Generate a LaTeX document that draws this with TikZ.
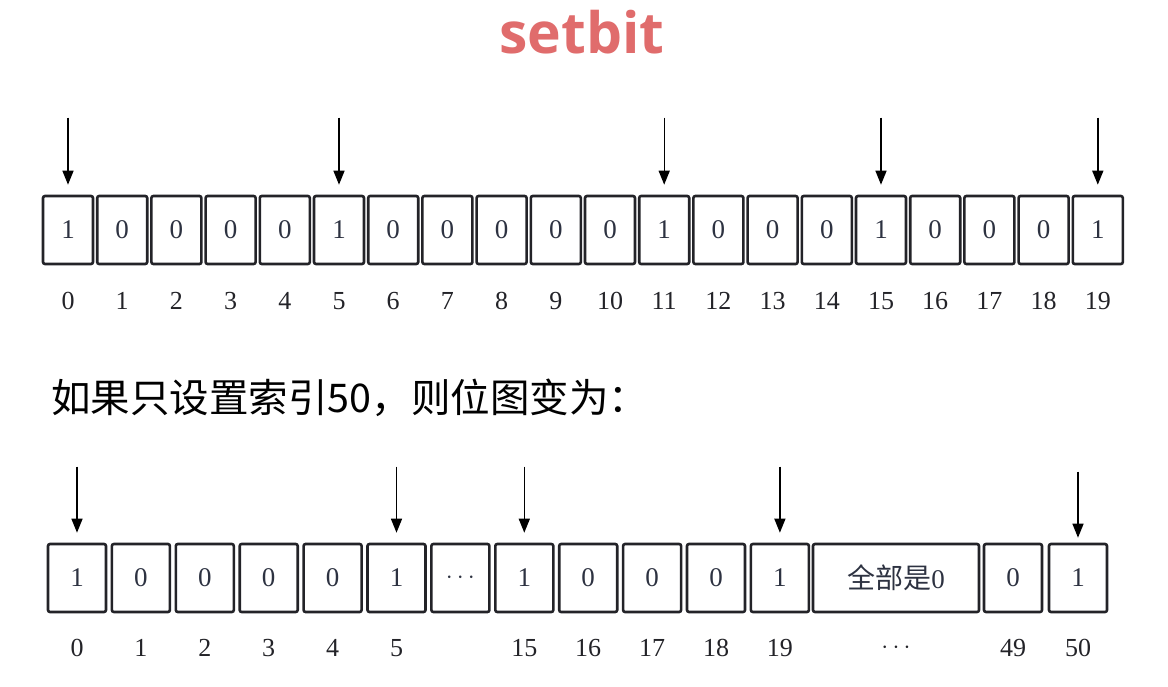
\documentclass[tikz,border=0pt]{standalone}
\usepackage{fontspec}
\setmainfont{Liberation Serif}
\newfontfamily\cjk{Noto Sans CJK SC}
\newfontfamily\titlefont{Open Sans}
\usetikzlibrary{arrows.meta,positioning}
\definecolor{titlered}{RGB}{224,108,108}
\definecolor{ink}{RGB}{35,35,40}
\definecolor{digit}{RGB}{45,50,65}
\begin{document}
\begin{tikzpicture}[x=1pt,y=-1pt,
	bit/.style={draw=ink, line width=2.6pt, rounded corners=2pt, inner sep=0pt, minimum height=68pt, text=digit, font=\fontsize{27}{29}\selectfont},
	bitA/.style={bit, minimum width=50pt},
	bitB/.style={bit, minimum width=58pt},
	idx/.style={inner sep=0pt, text=ink, font=\fontsize{26}{28}\selectfont},
	ptr/.style={-{Triangle[length=14pt,width=11pt]}, line width=1.4pt, shorten >=10pt}]
	\useasboundingbox (0,0) rectangle (1168,686);
	\node[anchor=base, text=titlered, font=\titlefont\bfseries\fontsize{57}{57}\selectfont] (title) at (582,53) {setbit};
	\foreach \v [count=\i from 0] in {1,0,0,0,0,1,0,0,0,0,0,1,0,0,0,1,0,0,0,1} {
		\node[bitA] (a\i) at (68+54.2*\i,230) {\v};
		\node[idx] (ai\i) at ([yshift=-36pt]a\i.south) {\i};
	}
	\foreach \i in {0,5,11,15,19} {
		\coordinate[above=77pt of a\i.north] (pa\i);
		\draw[ptr] (pa\i) -- (a\i.north);
	}
	\node[anchor=base west, inner sep=0pt, font=\cjk\fontsize{39.5}{41}\selectfont] (note) at (51,412) {如果只设置索引50，则位图变为：};
	\foreach \v/\n [count=\i from 0] in {1/0,0/1,0/2,0/3,0/4,1/5,$\cdots$/,1/15,0/16,0/17,0/18,1/19} {
		\node[bitB] (b\i) at (77+63.9*\i,578) {\v};
		\node[idx] (bi\i) at ([yshift=-35pt]b\i.south) {\n};
	}
	\node[bit, minimum width=166pt] (zero) at (896,578) {{\cjk\fontsize{28}{30}\selectfont 全部是}0};
	\node[idx] (zeroi) at ([yshift=-35pt]zero.south) {$\cdots$};
	\node[bitB] (b49) at (1013,578) {0};
	\node[idx] (bi49) at ([yshift=-35pt]b49.south) {49};
	\node[bitB] (b50) at (1078,578) {1};
	\node[idx] (bi50) at ([yshift=-35pt]b50.south) {50};
	\foreach \i in {0,5,7,11} {
		\coordinate[above=76pt of b\i.north] (pb\i);
		\draw[ptr] (pb\i) -- (b\i.north);
	}
	\coordinate[above=71pt of b50.north] (pb50);
	\draw[ptr, shorten >=5pt] (pb50) -- (b50.north);
\end{tikzpicture}
\end{document}
